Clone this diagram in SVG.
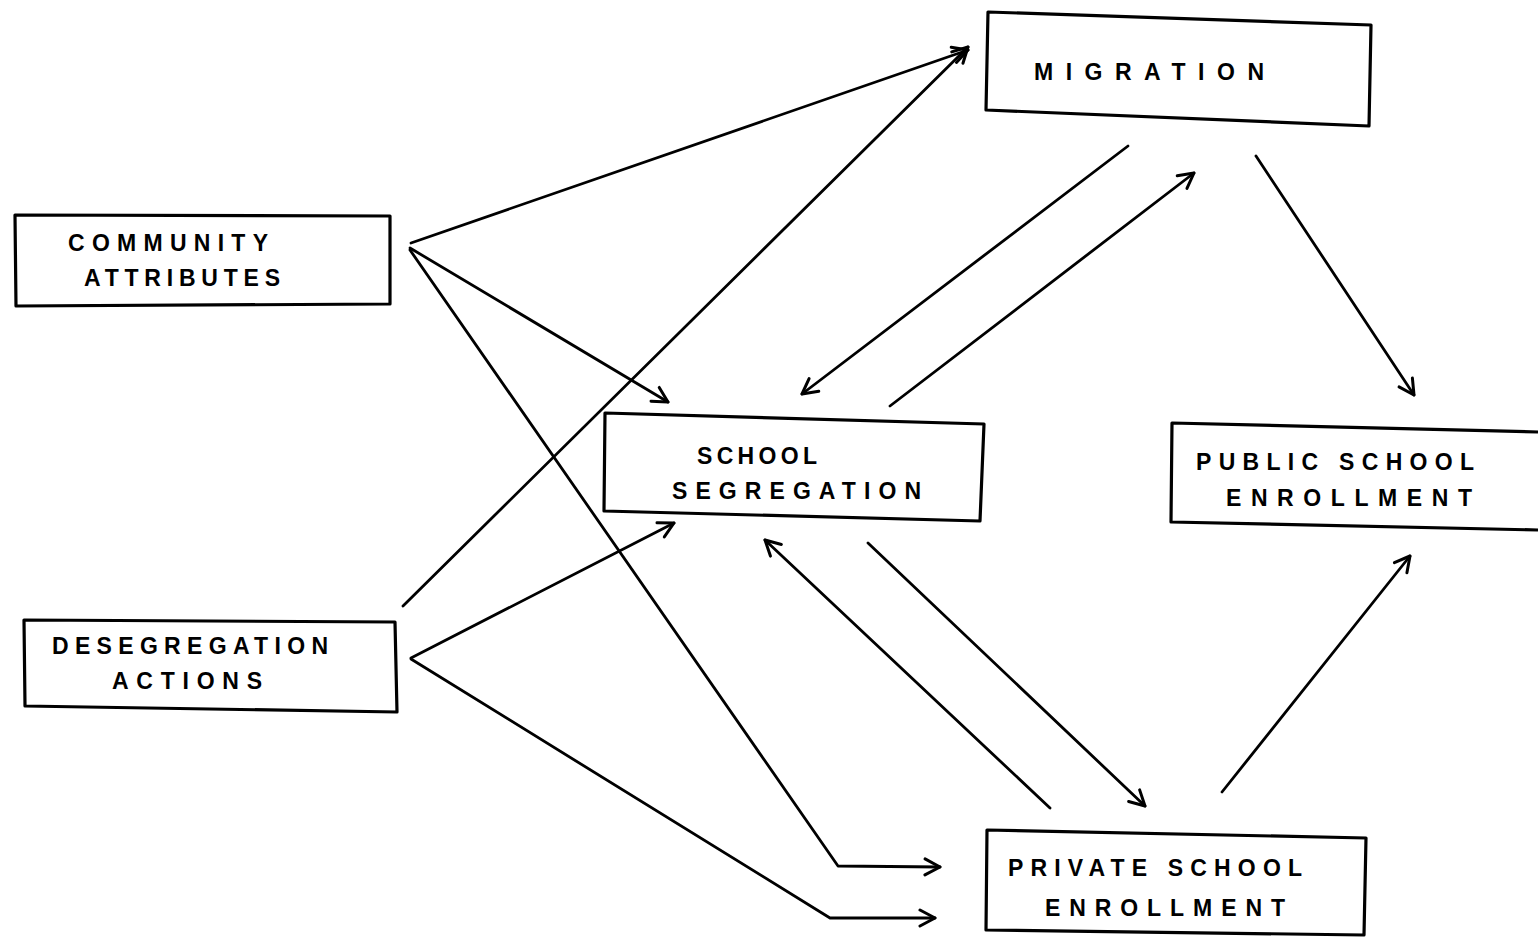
<svg xmlns="http://www.w3.org/2000/svg" width="1538" height="942" viewBox="0 0 1538 942">
<style>
.box{fill:none;stroke:#000;stroke-width:3.2;stroke-linejoin:round}
.lbl{font-family:"Liberation Sans",Arial,sans-serif;font-size:23px;font-weight:bold;fill:#000;text-anchor:start}
.c{fill:none;stroke:#000;stroke-width:2.8;stroke-linecap:round;stroke-linejoin:round}
</style>
<defs>
<marker id="ah" viewBox="0 0 20 20" refX="18" refY="10" markerWidth="20" markerHeight="20" markerUnits="userSpaceOnUse" orient="auto">
<path d="M3,2 L18,10 L3,18" fill="none" stroke="#000" stroke-width="3" stroke-linecap="round" stroke-linejoin="round"/>
</marker>
</defs>
<rect width="1538" height="942" fill="#fff"/>
<g id="migration">
<polygon class="box" points="988,12 1371,25 1369,126 986,110"/>
<text class="lbl" x="1034" y="80" textLength="230" lengthAdjust="spacing">MIGRATION</text>
</g>
<g id="community-attributes">
<polygon class="box" points="15,215 390,216 390,304 16,306"/>
<text class="lbl" x="68" y="251" textLength="200" lengthAdjust="spacing">COMMUNITY</text>
<text class="lbl" x="84" y="286" textLength="196" lengthAdjust="spacing">ATTRIBUTES</text>
</g>
<g id="desegregation-actions">
<polygon class="box" points="24,620 395,622 397,712 25,706"/>
<text class="lbl" x="52" y="654" textLength="276" lengthAdjust="spacing">DESEGREGATION</text>
<text class="lbl" x="112" y="689" textLength="150" lengthAdjust="spacing">ACTIONS</text>
</g>
<g id="school-segregation">
<polygon class="box" points="605,413 984,424 980,521 604,511"/>
<text class="lbl" x="697" y="464" textLength="120" lengthAdjust="spacing">SCHOOL</text>
<text class="lbl" x="672" y="499" textLength="249" lengthAdjust="spacing">SEGREGATION</text>
</g>
<g id="public-school-enrollment">
<polyline class="box" points="1538,432 1172,423 1171,522 1538,530"/>
<text class="lbl" x="1196" y="470" textLength="278" lengthAdjust="spacing">PUBLIC SCHOOL</text>
<text class="lbl" x="1226" y="506" textLength="246" lengthAdjust="spacing">ENROLLMENT</text>
</g>
<g id="private-school-enrollment">
<polygon class="box" points="987,830 1366,838 1364,935 986,930"/>
<text class="lbl" x="1008" y="876" textLength="294" lengthAdjust="spacing">PRIVATE SCHOOL</text>
<text class="lbl" x="1045" y="916" textLength="240" lengthAdjust="spacing">ENROLLMENT</text>
</g>
<g id="connectors">
<polyline class="c" points="411,243 968,50" marker-end="url(#ah)"/>
<polyline class="c" points="410,248 668,402" marker-end="url(#ah)"/>
<polyline class="c" points="410,250 838,866 940,867" marker-end="url(#ah)"/>
<polyline class="c" points="403,606 968,47" marker-end="url(#ah)"/>
<polyline class="c" points="411,658 674,523" marker-end="url(#ah)"/>
<polyline class="c" points="411,659 830,918 935,918" marker-end="url(#ah)"/>
<polyline class="c" points="1128,146 802,394" marker-end="url(#ah)"/>
<polyline class="c" points="890,406 1194,173" marker-end="url(#ah)"/>
<polyline class="c" points="1256,156 1414,395" marker-end="url(#ah)"/>
<polyline class="c" points="868,543 1145,806" marker-end="url(#ah)"/>
<polyline class="c" points="1050,808 765,540" marker-end="url(#ah)"/>
<polyline class="c" points="1222,792 1410,556" marker-end="url(#ah)"/>
</g>
</svg>
